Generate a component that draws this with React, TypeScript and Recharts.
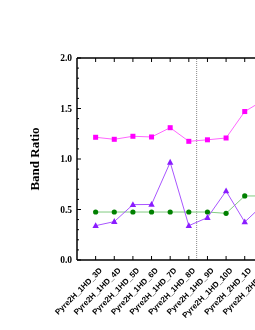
import React from "react";
import { LineChart, Line, XAxis, YAxis, ReferenceLine } from "recharts";

const categories = [
  "Pyre2H_1HD_3D",
  "Pyre2H_1HD_4D",
  "Pyre2H_1HD_5D",
  "Pyre2H_1HD_6D",
  "Pyre2H_1HD_7D",
  "Pyre2H_1HD_8D",
  "Pyre2H_1HD_9D",
  "Pyre2H_1HD_10D",
  "Pyre2H_2HD_1D",
  "Pyre2H_2HD_2D",
];
const magentaValues = [1.215, 1.195, 1.225, 1.218, 1.31, 1.175, 1.19, 1.208, 1.47, 1.58];
const greenValues = [0.475, 0.475, 0.475, 0.475, 0.475, 0.475, 0.475, 0.462, 0.634, 0.634];
const purpleValues = [0.34, 0.38, 0.548, 0.55, 0.967, 0.34, 0.42, 0.683, 0.376, 0.55];
const yTicks = [0, 0.1, 0.2, 0.3, 0.4, 0.5, 0.6, 0.7, 0.8, 0.9, 1.0, 1.1, 1.2, 1.3, 1.4, 1.5, 1.6, 1.7, 1.8, 1.9, 2.0];
const yMajor = [0, 0.5, 1.0, 1.5, 2.0];
const dividerAt = 5.42;

const data = categories.map((c, i) => ({
  i,
  name: c,
  magenta: magentaValues[i],
  green: greenValues[i],
  purple: purpleValues[i],
}));
const xTicks = categories.map((_, i) => i);

const Square = (props: any) => {
  const { cx, cy } = props;
  if (cx == null || cy == null) return null;
  return <rect x={cx - 2.5} y={cy - 2.5} width={5} height={5} fill="#ff00ff" />;
};
const Diamond = (props: any) => {
  const { cx, cy } = props;
  if (cx == null || cy == null) return null;
  return <circle cx={cx} cy={cy} r={2.6} fill="#008000" />;
};
const Triangle = (props: any) => {
  const { cx, cy } = props;
  if (cx == null || cy == null) return null;
  return (
    <path
      d={`M${cx},${cy - 3.5}L${cx + 3.2},${cy + 2.3}L${cx - 3.2},${cy + 2.3}Z`}
      fill="#8a1cff"
    />
  );
};

const BottomTick = (props: any) => {
  const { x, y, payload } = props;
  const label = categories[payload.value] ?? "";
  const ax = x + 7;
  const ay = y + 11;
  return (
    <g>
      <line x1={x} y1={y} x2={x} y2={y - 4} stroke="#000" strokeWidth={1} />
      <text
        x={ax}
        y={ay}
        textAnchor="end"
        transform={`rotate(-45, ${ax}, ${ay})`}
        fontFamily="Liberation Sans, Arial, sans-serif"
        fontWeight="bold"
        fontSize={8}
        fill="#000"
      >
        {label}
      </text>
    </g>
  );
};

const TopTick = (props: any) => {
  const { x, y } = props;
  return <line x1={x} y1={y} x2={x} y2={y + 4} stroke="#000" strokeWidth={1} />;
};

const LeftTick = (props: any) => {
  const { x, y, payload } = props;
  const v = payload.value;
  const major = yMajor.some((m) => Math.abs(m - v) < 1e-6);
  return (
    <g>
      <line x1={x} y1={y} x2={x + (major ? 4 : 2)} y2={y} stroke="#000" strokeWidth={1} />
      {major && (
        <text
          x={x - 5}
          y={y + 3}
          textAnchor="end"
          fontFamily="Liberation Serif, Times New Roman, serif"
          fontWeight="bold"
          fontSize={9.5}
          fill="#000"
        >
          {v.toFixed(1)}
        </text>
      )}
    </g>
  );
};

export default function App() {
  return (
    <div
      style={{
        position: "fixed",
        left: 8,
        top: 8,
        width: 247,
        height: 322,
        overflow: "hidden",
      }}
    >
      <LineChart
        width={279}
        height={322}
        data={data}
        margin={{ top: 49, right: 5, bottom: 0, left: 0 }}
        style={{ maxWidth: "none" }}
      >
        <XAxis
          dataKey="i"
          type="number"
          domain={[-1, categories.length]}
          ticks={xTicks}
          interval={0}
          allowDataOverflow
          tickLine={false}
          tickSize={0}
          tickMargin={0}
          tick={<BottomTick />}
          axisLine={{ stroke: "#000", strokeWidth: 1.5 }}
          height={70}
        />
        <XAxis
          xAxisId="top"
          orientation="top"
          dataKey="i"
          type="number"
          domain={[-1, categories.length]}
          ticks={xTicks}
          interval={0}
          allowDataOverflow
          tickLine={false}
          tickSize={0}
          tickMargin={0}
          tick={<TopTick />}
          axisLine={{ stroke: "#000", strokeWidth: 1.5 }}
          height={1}
        />
        <YAxis
          type="number"
          domain={[0, 2]}
          ticks={yTicks}
          interval={0}
          tickLine={false}
          tickSize={0}
          tickMargin={0}
          tick={<LeftTick />}
          axisLine={{ stroke: "#000", strokeWidth: 1.5 }}
          width={69}
          label={{
            value: "Band Ratio",
            angle: -90,
            position: "insideLeft",
            offset: 26,
            style: {
              fontFamily: "Liberation Serif, Times New Roman, serif",
              fontWeight: "bold",
              fontSize: 13,
              fill: "#000",
              textAnchor: "middle",
            },
          }}
        />
        <ReferenceLine x={dividerAt} stroke="#888" strokeDasharray="1 1" strokeWidth={1} />
        <Line
          dataKey="magenta"
          stroke="#ff66ff"
          strokeWidth={1}
          dot={<Square />}
          isAnimationActive={false}
        />
        <Line
          dataKey="green"
          stroke="#80cc80"
          strokeWidth={1}
          dot={<Diamond />}
          isAnimationActive={false}
        />
        <Line
          dataKey="purple"
          stroke="#a855ff"
          strokeWidth={1}
          dot={<Triangle />}
          isAnimationActive={false}
        />
      </LineChart>
    </div>
  );
}
